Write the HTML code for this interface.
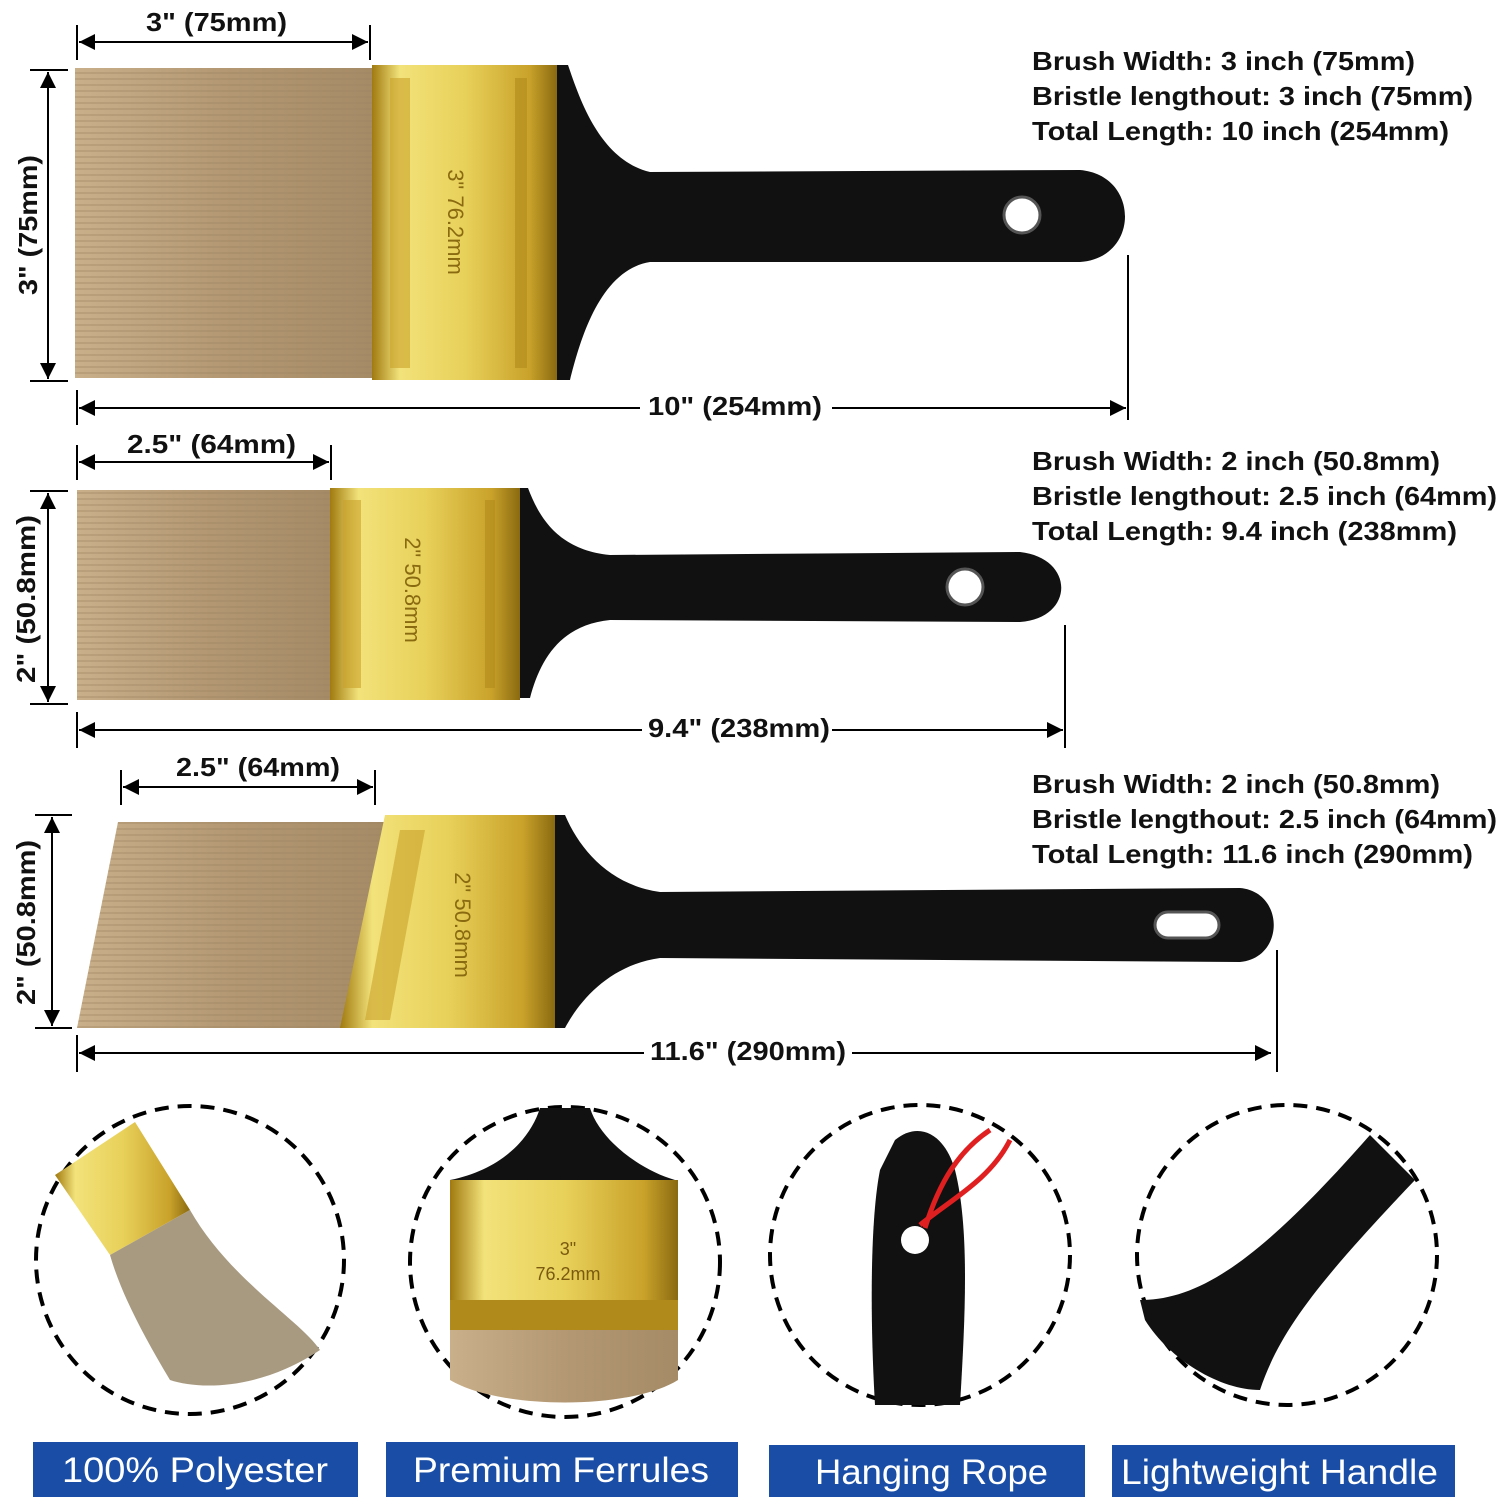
<!DOCTYPE html>
<html><head><meta charset="utf-8"><style>
html,body{margin:0;padding:0;background:#fff;}
svg text{font-family:"Liberation Sans",sans-serif;}
</style></head><body>
<svg width="1500" height="1500" viewBox="0 0 1500 1500" xmlns="http://www.w3.org/2000/svg">
<defs>
<linearGradient id="bri" x1="0" y1="0" x2="1" y2="0">
<stop offset="0" stop-color="#c9b08a"/><stop offset="0.5" stop-color="#b39873"/><stop offset="1" stop-color="#a58b66"/></linearGradient>
<linearGradient id="gold" x1="0" y1="0" x2="1" y2="0">
<stop offset="0" stop-color="#a07a10"/><stop offset="0.15" stop-color="#f2e27a"/><stop offset="0.5" stop-color="#e8d15a"/><stop offset="0.85" stop-color="#c9a22a"/><stop offset="1" stop-color="#8a6a10"/></linearGradient>
<pattern id="str" width="6" height="6" patternUnits="userSpaceOnUse"><rect width="6" height="2" fill="#9c8260" opacity="0.35"/></pattern>
<marker id="ar" viewBox="0 0 10 10" refX="10" refY="5" markerWidth="8" markerHeight="8" orient="auto-start-reverse"><path d="M0,0 L10,5 L0,10 z" fill="#000"/></marker>
</defs>
<g stroke="#000" stroke-width="2" fill="none">
<line x1="77" y1="25" x2="77" y2="60"/><line x1="370" y1="25" x2="370" y2="60"/>
<line x1="79" y1="42" x2="368" y2="42" marker-start="url(#ar)" marker-end="url(#ar)"/>
<line x1="30" y1="70" x2="68" y2="70"/><line x1="30" y1="381" x2="68" y2="381"/>
<line x1="48" y1="72" x2="48" y2="379" marker-start="url(#ar)" marker-end="url(#ar)"/>
<line x1="77" y1="390" x2="77" y2="425"/><line x1="1128" y1="255" x2="1128" y2="420"/>
<line x1="79" y1="408" x2="640" y2="408" marker-start="url(#ar)"/><line x1="832" y1="408" x2="1126" y2="408" marker-end="url(#ar)"/>
<line x1="77" y1="445" x2="77" y2="480"/><line x1="331" y1="445" x2="331" y2="480"/>
<line x1="79" y1="462" x2="329" y2="462" marker-start="url(#ar)" marker-end="url(#ar)"/>
<line x1="30" y1="491" x2="68" y2="491"/><line x1="30" y1="704" x2="68" y2="704"/>
<line x1="48" y1="493" x2="48" y2="702" marker-start="url(#ar)" marker-end="url(#ar)"/>
<line x1="77" y1="712" x2="77" y2="748"/><line x1="1065" y1="625" x2="1065" y2="748"/>
<line x1="79" y1="730" x2="642" y2="730" marker-start="url(#ar)"/><line x1="832" y1="730" x2="1063" y2="730" marker-end="url(#ar)"/>
<line x1="121" y1="770" x2="121" y2="805"/><line x1="375" y1="770" x2="375" y2="805"/>
<line x1="123" y1="787" x2="373" y2="787" marker-start="url(#ar)" marker-end="url(#ar)"/>
<line x1="35" y1="815" x2="72" y2="815"/><line x1="35" y1="1028" x2="72" y2="1028"/>
<line x1="52" y1="817" x2="52" y2="1026" marker-start="url(#ar)" marker-end="url(#ar)"/>
<line x1="77" y1="1035" x2="77" y2="1072"/><line x1="1277" y1="950" x2="1277" y2="1072"/>
<line x1="79" y1="1053" x2="644" y2="1053" marker-start="url(#ar)"/><line x1="852" y1="1053" x2="1271" y2="1053" marker-end="url(#ar)"/>
</g>
<g font-weight="bold" font-size="26" fill="#111">
<text x="146" y="31" textLength="141" lengthAdjust="spacingAndGlyphs">3" (75mm)</text>
<text x="648" y="415" textLength="174" lengthAdjust="spacingAndGlyphs">10" (254mm)</text>
<text x="127" y="453" textLength="169" lengthAdjust="spacingAndGlyphs">2.5" (64mm)</text>
<text x="648" y="737" textLength="182" lengthAdjust="spacingAndGlyphs">9.4" (238mm)</text>
<text x="176" y="776" textLength="164" lengthAdjust="spacingAndGlyphs">2.5" (64mm)</text>
<text x="650" y="1060" textLength="196" lengthAdjust="spacingAndGlyphs">11.6" (290mm)</text>
<text transform="translate(37,295) rotate(-90)" textLength="140" lengthAdjust="spacingAndGlyphs">3" (75mm)</text>
<text transform="translate(35,683) rotate(-90)" textLength="168" lengthAdjust="spacingAndGlyphs">2" (50.8mm)</text>
<text transform="translate(35,1005) rotate(-90)" textLength="165" lengthAdjust="spacingAndGlyphs">2" (50.8mm)</text>
<g font-size="26" lengthAdjust="spacingAndGlyphs">
<text x="1032" y="70" textLength="383" lengthAdjust="spacingAndGlyphs">Brush Width: 3 inch (75mm)</text>
<text x="1032" y="105" textLength="441" lengthAdjust="spacingAndGlyphs">Bristle lengthout: 3 inch (75mm)</text>
<text x="1032" y="140" textLength="417" lengthAdjust="spacingAndGlyphs">Total Length: 10 inch (254mm)</text>
<text x="1032" y="470" textLength="408" lengthAdjust="spacingAndGlyphs">Brush Width: 2 inch (50.8mm)</text>
<text x="1032" y="505" textLength="465" lengthAdjust="spacingAndGlyphs">Bristle lengthout: 2.5 inch (64mm)</text>
<text x="1032" y="540" textLength="425" lengthAdjust="spacingAndGlyphs">Total Length: 9.4 inch (238mm)</text>
<text x="1032" y="793" textLength="408" lengthAdjust="spacingAndGlyphs">Brush Width: 2 inch (50.8mm)</text>
<text x="1032" y="828" textLength="465" lengthAdjust="spacingAndGlyphs">Bristle lengthout: 2.5 inch (64mm)</text>
<text x="1032" y="863" textLength="441" lengthAdjust="spacingAndGlyphs">Total Length: 11.6 inch (290mm)</text>
</g></g>
<path d="M557,65 L568,65 C580,100 600,160 650,172 L1080,170 C1140,175 1140,258 1080,262 L650,262 C600,270 580,340 570,380 L557,380 Z" fill="#111"/>
<circle cx="1022" cy="215" r="18" fill="#fff" stroke="#555" stroke-width="3"/>
<rect x="75" y="68" width="297" height="310" fill="url(#bri)"/>
<rect x="75" y="68" width="297" height="310" fill="url(#str)"/>
<rect x="372" y="65" width="185" height="315" fill="url(#gold)"/>
<rect x="390" y="78" width="20" height="290" fill="#c9a22a" opacity="0.6"/>
<rect x="515" y="78" width="12" height="290" fill="#b08a1a" opacity="0.6"/>
<text transform="translate(448,222) rotate(90)" font-size="22" fill="#8a6a10" text-anchor="middle">3" 76.2mm</text>
<path d="M520,488 L528,488 C540,520 560,550 610,555 L1020,552 C1075,558 1075,618 1020,622 L610,620 C560,625 540,660 530,698 L520,698 Z" fill="#111"/>
<circle cx="965" cy="587" r="18" fill="#fff" stroke="#555" stroke-width="3"/>
<rect x="77" y="490" width="253" height="210" fill="url(#bri)"/>
<rect x="77" y="490" width="253" height="210" fill="url(#str)"/>
<rect x="330" y="488" width="190" height="212" fill="url(#gold)"/>
<rect x="343" y="500" width="18" height="188" fill="#c9a22a" opacity="0.6"/>
<rect x="485" y="500" width="10" height="188" fill="#b08a1a" opacity="0.6"/>
<text transform="translate(405,590) rotate(90)" font-size="22" fill="#8a6a10" text-anchor="middle">2" 50.8mm</text>
<path d="M555,815 L565,815 C580,850 610,885 660,892 L1240,888 C1285,892 1285,958 1240,962 L660,958 C610,965 580,1000 565,1028 L555,1028 Z" fill="#111"/>
<rect x="1155" y="912" width="64" height="26" rx="13" fill="#fff" stroke="#555" stroke-width="3"/>
<polygon points="118,822 385,822 345,1028 77,1028" fill="url(#bri)"/>
<polygon points="118,822 385,822 345,1028 77,1028" fill="url(#str)"/>
<polygon points="385,815 555,815 555,1028 340,1028" fill="url(#gold)"/>
<polygon points="400,830 425,830 390,1020 365,1020" fill="#c9a22a" opacity="0.6"/>
<text transform="translate(455,925) rotate(90)" font-size="22" fill="#8a6a10" text-anchor="middle">2" 50.8mm</text>
<g fill="none" stroke="#000" stroke-width="4" stroke-dasharray="14,9">
<circle cx="190" cy="1260" r="154"/><circle cx="565" cy="1262" r="155"/>
<circle cx="920" cy="1255" r="150"/><circle cx="1287" cy="1255" r="150"/>
</g>
<polygon points="55,1175 135,1122 190,1210 110,1255" fill="url(#gold)"/>
<path d="M110,1255 L190,1210 C230,1280 300,1320 320,1350 C260,1390 200,1390 170,1380 C140,1330 120,1290 110,1255 Z" fill="#a89a80"/>
<path d="M540,1108 L590,1108 C600,1140 640,1170 675,1180 L450,1180 C500,1170 530,1140 540,1108 Z" fill="#111"/>
<rect x="450" y="1180" width="228" height="120" fill="url(#gold)"/>
<rect x="450" y="1300" width="228" height="30" fill="#b08a1a"/>
<path d="M450,1330 L678,1330 L678,1380 C630,1410 500,1410 450,1380 Z" fill="url(#bri)"/>
<text x="568" y="1255" font-size="18" fill="#7a5a10" text-anchor="middle">3"</text>
<text x="568" y="1280" font-size="18" fill="#7a5a10" text-anchor="middle">76.2mm</text>
<path d="M895,1140 C920,1120 945,1135 955,1170 C970,1230 965,1320 960,1405 L875,1405 C870,1320 870,1220 880,1170 Z" fill="#111"/>
<circle cx="915" cy="1240" r="14" fill="#fff"/>
<path d="M920,1225 C950,1200 990,1180 1010,1140 M925,1228 C940,1180 960,1150 990,1130" stroke="#e02020" stroke-width="5" fill="none"/>
<path d="M1140,1300 C1200,1300 1260,1260 1370,1135 L1415,1180 C1320,1280 1280,1330 1260,1390 C1220,1390 1170,1360 1145,1320 Z" fill="#111"/>
<g fill="#1a4ea6">
<rect x="33" y="1442" width="325" height="55"/><rect x="386" y="1442" width="352" height="55"/>
<rect x="769" y="1445" width="316" height="52"/><rect x="1112" y="1445" width="343" height="52"/>
</g>
<g fill="#fff" font-size="35">
<text x="62" y="1482" textLength="266" lengthAdjust="spacingAndGlyphs">100% Polyester</text>
<text x="413" y="1482" textLength="296" lengthAdjust="spacingAndGlyphs">Premium Ferrules</text>
<text x="815" y="1484" textLength="233" lengthAdjust="spacingAndGlyphs">Hanging Rope</text>
<text x="1121" y="1484" textLength="317" lengthAdjust="spacingAndGlyphs">Lightweight Handle</text>
</g>
</svg>
</body></html>
